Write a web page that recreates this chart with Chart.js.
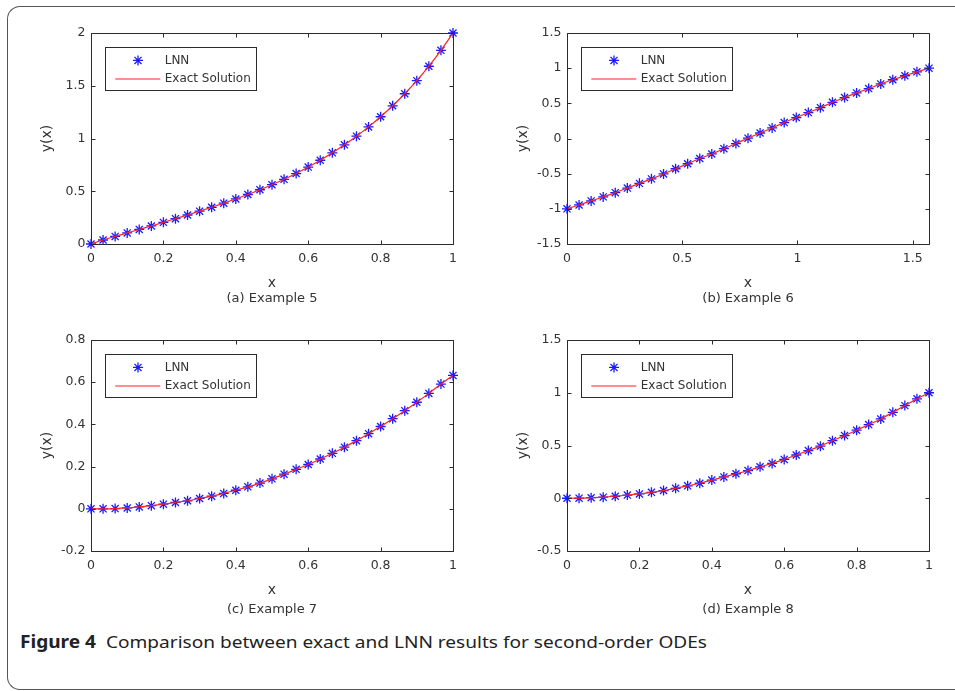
<!DOCTYPE html>
<html><head><meta charset="utf-8">
<script src="https://cdn.jsdelivr.net/npm/chart.js@4.4.0/dist/chart.umd.min.js"></script>
<style>
html,body{margin:0;padding:0;background:#fff;width:955px;height:691px;overflow:hidden;position:relative;}
#frame{position:absolute;left:7px;top:6px;width:1000px;height:684px;border:1px solid #555;border-right:none;border-radius:13px 0 0 13px;box-sizing:border-box;}
canvas{position:absolute;}
.sub{position:absolute;font-family:'DejaVu Sans';font-size:13px;color:#333;transform:translate(-50%,-50%);white-space:nowrap;}
#cap{position:absolute;left:20px;top:641px;transform-origin:0 50%;transform:translateY(-50%);font-family:'Noto Sans';font-size:17px;color:#222;white-space:nowrap;}
</style></head><body>
<div id="frame"></div>
<canvas id="cA" width="442" height="281" style="left:31px;top:13px"></canvas>
<canvas id="cB" width="442" height="281" style="left:507px;top:13px"></canvas>
<canvas id="cC" width="442" height="281" style="left:31px;top:320px"></canvas>
<canvas id="cD" width="442" height="281" style="left:507px;top:320px"></canvas>
<div class="sub" style="left:272px;top:297px">(a) Example 5</div>
<div class="sub" style="left:748px;top:297px">(b) Example 6</div>
<div class="sub" style="left:272px;top:608px">(c) Example 7</div>
<div class="sub" style="left:748px;top:608px">(d) Example 8</div>
<div id="cap"><b>Figure 4</b>&nbsp; Comparison between exact and LNN results for second-order ODEs</div>
<script>
// ---- data ----
const seriesLabels = ['LNN', 'Exact Solution'];
const x01 = [0, 0.0333, 0.0667, 0.1, 0.1333, 0.1667, 0.2, 0.2333, 0.2667, 0.3, 0.3333, 0.3667, 0.4, 0.4333, 0.4667, 0.5,
             0.5333, 0.5667, 0.6, 0.6333, 0.6667, 0.7, 0.7333, 0.7667, 0.8, 0.8333, 0.8667, 0.9, 0.9333, 0.9667, 1];
const xHalfPi = [0, 0.0524, 0.1047, 0.1571, 0.2094, 0.2618, 0.3142, 0.3665, 0.4189, 0.4712, 0.5236, 0.5760, 0.6283, 0.6807,
                 0.7330, 0.7854, 0.8378, 0.8901, 0.9425, 0.9948, 1.0472, 1.0996, 1.1519, 1.2043, 1.2566, 1.3090, 1.3614,
                 1.4137, 1.4661, 1.5184, 1.5708];
const yEx5 = [0, 0.038, 0.072, 0.105, 0.138, 0.171, 0.205, 0.24, 0.275, 0.311, 0.348, 0.387, 0.427, 0.469, 0.514, 0.562,
              0.613, 0.668, 0.729, 0.794, 0.864, 0.94, 1.022, 1.11, 1.206, 1.31, 1.424, 1.548, 1.685, 1.836, 2.0];
const yEx6 = [-1, -0.945, -0.887, -0.83, -0.77, -0.705, -0.638, -0.574, -0.504, -0.43, -0.359, -0.284, -0.22, -0.145, -0.072,
              0.005, 0.078, 0.15, 0.226, 0.298, 0.368, 0.438, 0.515, 0.582, 0.648, 0.71, 0.776, 0.835, 0.892, 0.948, 1.0];
const yEx7 = [0, 0, 0.001, 0.004, 0.009, 0.015, 0.022, 0.03, 0.038, 0.049, 0.06, 0.073, 0.088, 0.104, 0.122, 0.142,
              0.164, 0.187, 0.21, 0.236, 0.263, 0.292, 0.323, 0.356, 0.39, 0.427, 0.465, 0.505, 0.547, 0.591, 0.632];
const yEx8 = [0, 0.001, 0.005, 0.01, 0.019, 0.03, 0.041, 0.056, 0.073, 0.094, 0.118, 0.142, 0.172, 0.202, 0.232, 0.262,
              0.298, 0.33, 0.368, 0.41, 0.452, 0.494, 0.546, 0.594, 0.645, 0.698, 0.752, 0.814, 0.878, 0.942, 1.0];
const xTicks01 = [0, 0.2, 0.4, 0.6, 0.8, 1];
const xTicksB = [0, 0.5, 1, 1.5];
const yTicksA = [0, 0.5, 1, 1.5, 2];
const yTicksB = [-1.5, -1, -0.5, 0, 0.5, 1, 1.5];
const yTicksC = [-0.2, 0, 0.2, 0.4, 0.6, 0.8];
const yTicksD = [-0.5, 0, 0.5, 1, 1.5];

const FONT = 'DejaVu Sans';
const INK = '#333';

const matlabAxes = {
  id: 'matlabAxes',
  afterDraw(chart) {
    const {ctx, chartArea: a, scales: {x, y}} = chart;
    ctx.save();
    ctx.strokeStyle = '#2b2b2b';
    ctx.lineWidth = 1;
    const L = Math.round(a.left) + 0.5, R = Math.round(a.right) + 0.5;
    const T = Math.round(a.top) + 0.5, B = Math.round(a.bottom) + 0.5;
    ctx.beginPath();
    ctx.rect(L, T, R - L, B - T);
    x.ticks.forEach(t => {
      const p = Math.round(x.getPixelForValue(t.value)) + 0.5;
      ctx.moveTo(p, B); ctx.lineTo(p, B - 4);
      ctx.moveTo(p, T); ctx.lineTo(p, T + 4);
    });
    y.ticks.forEach(t => {
      const p = Math.round(y.getPixelForValue(t.value)) + 0.5;
      ctx.moveTo(L, p); ctx.lineTo(L + 4, p);
      ctx.moveTo(R, p); ctx.lineTo(R - 4, p);
    });
    ctx.stroke();

    // legend box (MATLAB style, inside the axes, top-left)
    const ds = chart.data.datasets;
    const bx = Math.round(a.left + 14) + 0.5, by = Math.round(a.top + 14) + 0.5;
    ctx.fillStyle = '#fff';
    ctx.fillRect(bx, by, 151, 43);
    ctx.strokeStyle = '#2b2b2b';
    ctx.strokeRect(bx, by, 151, 43);
    const r1 = a.top + 27.4, r2 = a.top + 46;
    ctx.strokeStyle = ds[0].pointBorderColor;
    ctx.lineWidth = ds[0].pointBorderWidth;
    Chart.helpers.drawPoint(ctx, {pointStyle: ds[0].pointStyle, radius: ds[0].pointRadius, borderWidth: ds[0].pointBorderWidth, rotation: 0}, a.left + 47, r1);
    ctx.strokeStyle = ds[1].borderColor;
    ctx.lineWidth = ds[1].borderWidth;
    ctx.beginPath();
    ctx.moveTo(a.left + 24.3, r2); ctx.lineTo(a.left + 69.3, r2);
    ctx.stroke();
    ctx.fillStyle = INK;
    ctx.font = '12px "' + FONT + '"';
    ctx.textBaseline = 'middle';
    ctx.textAlign = 'left';
    ctx.fillText(ds[0].label, a.left + 73.7, r1);
    ctx.fillText(ds[1].label, a.left + 73.7, r2);
    ctx.restore();
  }
};

function makeChart(id, xs, ys, xTicks, yTicks, xMin, xMax, yMin, yMax) {
  const pts = xs.map((x, i) => ({x: x, y: ys[i]}));
  return new Chart(document.getElementById(id), {
    type: 'scatter',
    data: {datasets: [
      {label: seriesLabels[0], data: pts, showLine: false, pointStyle: 'star', pointRadius: 5,
       pointBorderColor: '#1a1aff', pointBorderWidth: 1.3, borderColor: '#1a1aff', backgroundColor: '#1a1aff',
       clip: false, order: 2},
      {label: seriesLabels[1], data: pts, showLine: true, pointRadius: 0, borderColor: '#ff2020',
       backgroundColor: '#ff2020', borderWidth: 1.2, cubicInterpolationMode: 'monotone', clip: false, order: 1}
    ]},
    options: {
      responsive: false, animation: false, events: [],
      layout: {padding: {left: 0, top: 20, right: 20, bottom: 0}},
      plugins: {legend: {display: false}, tooltip: {enabled: false}},
      scales: {
        x: {type: 'linear', min: xMin, max: xMax,
            grid: {display: false, drawTicks: false}, border: {display: false},
            afterBuildTicks: s => { s.ticks = xTicks.map(v => ({value: v})); },
            afterFit: s => { s.height = 50; },
            ticks: {padding: 7.5, color: INK, font: {family: FONT, size: 12.5}, maxRotation: 0, autoSkip: false,
                    callback: v => String(v)},
            title: {display: true, text: 'x', color: INK, font: {family: FONT, size: 14}, padding: {top: 0, bottom: 2.6}}},
        y: {type: 'linear', min: yMin, max: yMax,
            grid: {display: false, drawTicks: false}, border: {display: false},
            afterBuildTicks: s => { s.ticks = yTicks.map(v => ({value: v})); },
            afterFit: s => { s.width = 60; },
            ticks: {padding: 5.5, color: INK, font: {family: FONT, size: 12.5}, autoSkip: false,
                    callback: v => String(v)},
            title: {display: true, text: 'y(x)', color: INK, font: {family: FONT, size: 14}, padding: {top: 8, bottom: 0}}}
      }
    },
    plugins: [matlabAxes]
  });
}

makeChart('cA', x01, yEx5, xTicks01, yTicksA, 0, 1, 0, 2);
makeChart('cB', xHalfPi, yEx6, xTicksB, yTicksB, 0, 1.5708, -1.5, 1.5);
makeChart('cC', x01, yEx7, xTicks01, yTicksC, 0, 1, -0.2, 0.8);
makeChart('cD', x01, yEx8, xTicks01, yTicksD, 0, 1, -0.5, 1.5);

// stretch the figure caption horizontally to the width it has in the reference
const cap = document.getElementById('cap');
const capW = cap.getBoundingClientRect().width;
cap.style.transform = 'translateY(-50%) scaleX(' + (687 / capW) + ')';
</script>
</body></html>
